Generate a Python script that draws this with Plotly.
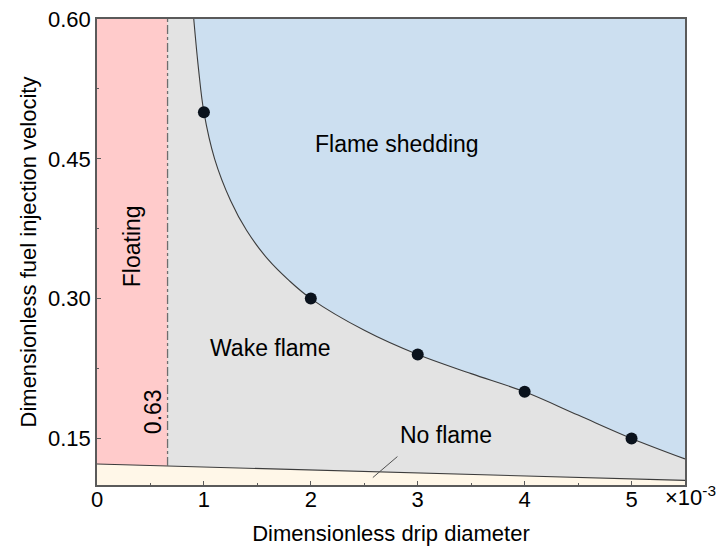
import plotly.graph_objects as go

# ---- data ----
# phase boundary (flame shedding / wake flame), x in units of 1e-3
curve_x = [0.905, 0.95, 1.0, 1.1, 1.25, 1.4, 1.6, 1.8, 2.0, 2.5, 3.0, 3.5, 4.0, 4.5, 5.0, 5.5]
curve_y = [0.600, 0.546, 0.500, 0.450, 0.405, 0.373, 0.342, 0.319, 0.300, 0.266, 0.240, 0.2195, 0.200, 0.175, 0.150, 0.128]
# measured points
pts_x = [1, 2, 3, 4, 5]
pts_y = [0.50, 0.30, 0.24, 0.20, 0.15]
# no-flame lower boundary
noflame_x = [0.0, 5.5]
noflame_y = [0.1225, 0.105]
# floating limit
float_x = 0.66
float_label = "0.63"
y_top = 0.60
y_bot = 0.10
x_max = 5.5

y_ticks = [0.15, 0.30, 0.45, 0.60]
x_ticks = [0, 1, 2, 3, 4, 5]

FONT = "Liberation Sans, Arial, sans-serif"
PINK = "rgb(255,203,203)"
GREY = "rgb(227,227,227)"
BLUE = "rgb(204,223,240)"
CREAM = "rgb(255,247,232)"
LINE = "rgb(60,60,60)"


def noflame_at(x):
    return noflame_y[0] + (noflame_y[1] - noflame_y[0]) * (x - noflame_x[0]) / (noflame_x[1] - noflame_x[0])


fig = go.Figure()

# no-flame region (bottom)
fig.add_trace(go.Scatter(
    x=[noflame_x[0], noflame_x[1], noflame_x[1], noflame_x[0]],
    y=[y_bot, y_bot, noflame_y[1], noflame_y[0]],
    fill="toself", fillcolor=CREAM, mode="lines", line=dict(width=0),
    hoverinfo="skip", showlegend=False))

# floating region (left)
fig.add_trace(go.Scatter(
    x=[0, float_x, float_x, 0],
    y=[noflame_y[0], noflame_at(float_x), y_top, y_top],
    fill="toself", fillcolor=PINK, mode="lines", line=dict(width=0),
    hoverinfo="skip", showlegend=False))

# flame shedding region (between curve and top edge)
fig.add_trace(go.Scatter(
    x=curve_x, y=curve_y, mode="lines",
    line=dict(width=0, shape="spline", smoothing=1.0),
    hoverinfo="skip", showlegend=False))
fig.add_trace(go.Scatter(
    x=[curve_x[0], x_max], y=[y_top, y_top], mode="lines",
    fill="tonexty", fillcolor=BLUE, line=dict(width=0),
    hoverinfo="skip", showlegend=False))

# boundary lines
fig.add_trace(go.Scatter(
    x=curve_x, y=curve_y, mode="lines",
    line=dict(color=LINE, width=1.1, shape="spline", smoothing=1.0),
    hoverinfo="skip", showlegend=False))
fig.add_trace(go.Scatter(
    x=noflame_x, y=noflame_y, mode="lines",
    line=dict(color=LINE, width=1.1),
    hoverinfo="skip", showlegend=False))
fig.add_trace(go.Scatter(
    x=[float_x, float_x], y=[noflame_at(float_x), y_top], mode="lines",
    line=dict(color="rgb(110,110,110)", width=1.3, dash="dashdot"),
    hoverinfo="skip", showlegend=False))
# leader line for "No flame"
fig.add_trace(go.Scatter(
    x=[2.58, 2.81], y=[0.108, 0.1305], mode="lines",
    line=dict(color="rgb(80,80,80)", width=1),
    hoverinfo="skip", showlegend=False))

# data points
fig.add_trace(go.Scatter(
    x=pts_x, y=pts_y, mode="markers",
    marker=dict(size=12, color="rgb(10,18,28)"),
    showlegend=False))

ann_font = dict(family=FONT, size=23, color="black")
annotations = [
    dict(x=2.81, y=0.466, text="Flame shedding", showarrow=False, font=ann_font),
    dict(x=1.62, y=0.2465, text="Wake flame", showarrow=False, font=ann_font),
    dict(x=3.265, y=0.1536, text="No flame", showarrow=False, font=ann_font),
    dict(x=0.335, y=0.356, text="Floating", showarrow=False, font=ann_font, textangle=-90),
    dict(x=0.531, y=0.179, text=float_label, showarrow=False, font=ann_font, textangle=-90),
    dict(x=5.29, y=-0.024, xref="x", yref="paper", text="×10<sup>-3</sup>",
         showarrow=False, xanchor="left", yanchor="middle",
         font=dict(family=FONT, size=22, color="black")),
]

fig.update_layout(
    width=717, height=549,
    margin=dict(l=97, r=32, t=19, b=64, autoexpand=False),
    paper_bgcolor="white", plot_bgcolor=GREY,
    font=dict(family=FONT, size=22, color="black"),
    annotations=annotations,
    showlegend=False,
)
fig.update_xaxes(
    range=[0, x_max], tickvals=x_ticks, ticktext=[str(v) for v in x_ticks],
    ticks="inside", ticklen=4, tickcolor="rgb(90,90,90)",
    minor=dict(ticks="inside", ticklen=2, dtick=0.5, tick0=0, tickcolor="rgb(90,90,90)"),
    showgrid=False, zeroline=False,
    showline=True, linecolor="rgb(90,90,90)", linewidth=1.5, mirror=True,
    title=dict(text="Dimensionless drip diameter", standoff=14, font=dict(size=22)),
    automargin=False, ticklabelstandoff=-6,
)
fig.update_yaxes(
    range=[y_bot, y_top], tickvals=y_ticks, ticktext=[f"{v:.2f}" for v in y_ticks],
    ticks="inside", ticklen=4, tickcolor="rgb(90,90,90)",
    minor=dict(ticks="inside", ticklen=2, dtick=0.075, tick0=0.15, tickcolor="rgb(90,90,90)"),
    showgrid=False, zeroline=False,
    showline=True, linecolor="rgb(90,90,90)", linewidth=1.5, mirror=True,
    title=dict(text="Dimensionless fuel injection velocity", standoff=5, font=dict(size=22)),
    automargin=False, ticklabelstandoff=0,
)

fig.write_html("out.html")
